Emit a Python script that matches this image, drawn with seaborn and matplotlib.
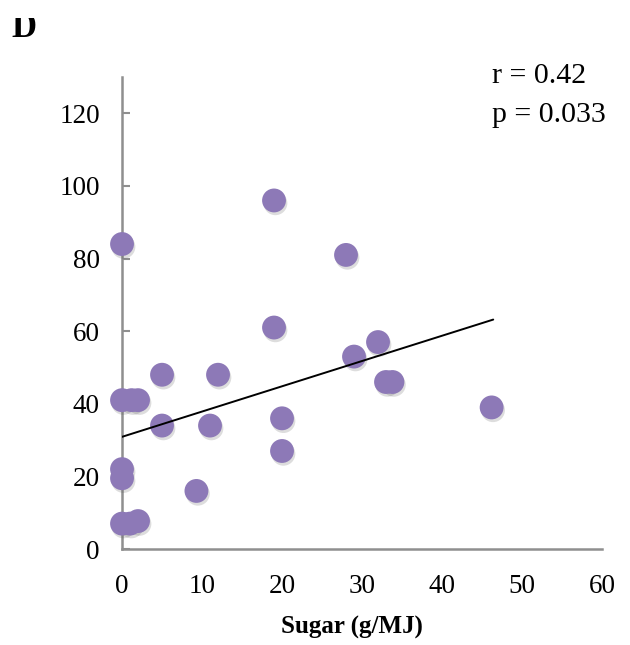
import matplotlib
matplotlib.use("Agg")
import matplotlib.pyplot as plt
import matplotlib.patheffects as pe
from matplotlib.patches import Rectangle
import numpy as np
import pandas as pd
import seaborn as sns

# ---- data ----
sugar = [0, 19, 28, 19, 32, 29, 5, 12, 33, 33.8, 46.2, 0, 1.2, 2, 5, 11,
         20, 20, 0, 0, 9.3, 0, 1, 2]
value = [84, 96, 81, 61, 57, 53, 48, 48, 46, 46, 39, 41, 41, 41, 34, 34,
         36, 27, 22, 19.5, 16, 7, 7, 7.7]
trend_intercept = 30.9
trend_slope = 0.696
trend_x = [0, 46.4]
x_ticks = [0, 10, 20, 30, 40, 50, 60]
y_ticks = [0, 20, 40, 60, 80, 100, 120]
stats_lines = ["r = 0.42", "p = 0.033"]
panel_label = "D"
x_label = "Sugar (g/MJ)"

df = pd.DataFrame({"sugar": sugar, "value": value})

sns.set_theme(style="white")
plt.rcParams["font.family"] = ["Liberation Serif", "DejaVu Serif"]
plt.rcParams["text.color"] = "black"

fig = plt.figure(figsize=(6.30, 6.45), dpi=100)
ax = fig.add_axes([0.1937, 0.1488, 0.7619, 0.7318])

dot_color = "#8D79B7"
sns.scatterplot(data=df, x="sugar", y="value", ax=ax, s=295, color=dot_color,
                edgecolor="none", linewidth=0, zorder=3, clip_on=False)
for coll in ax.collections:
    coll.set_clip_on(False)
    coll.set_path_effects([pe.SimplePatchShadow(offset=(1.0, -2.0), alpha=0.2,
                                                shadow_rgbFace="#555555"),
                           pe.Normal()])

tx = np.array(trend_x)
ax.plot(tx, trend_intercept + trend_slope * tx, color="black", lw=1.4, zorder=4)

ax.set_xlim(0, 60)
ax.set_ylim(0, 130)
ax.set_xticks(x_ticks)
ax.set_yticks(y_ticks)
ax.set_xticklabels([str(t) for t in x_ticks])
ax.set_yticklabels([str(t) for t in y_ticks])

for s in ["top", "right"]:
    ax.spines[s].set_visible(False)
for s in ["left", "bottom"]:
    ax.spines[s].set_color("#8f8f8f")
    ax.spines[s].set_linewidth(1.8)
ax.tick_params(axis="both", direction="in", length=6, width=1.5,
               color="#8f8f8f", labelsize=19.5, labelcolor="black")
ax.tick_params(axis="x", pad=18)
ax.tick_params(axis="y", pad=16, left=True)

ax.set_xlabel(x_label, fontsize=18, fontweight="bold", labelpad=12,
              color="black")
ax.xaxis.label.set_x(0.478)
ax.set_ylabel("")

fig.text(0.781, 0.882, stats_lines[0], fontsize=21.5, ha="left", va="center",
         color="black")
fig.text(0.781, 0.822, stats_lines[1], fontsize=21.5, ha="left", va="center",
         color="black")
fig.text(0.018, 0.9426, panel_label, fontsize=25, fontweight="bold",
         ha="left", va="baseline", color="black")
# the panel letter is clipped at its top in the reference
fig.add_artist(Rectangle((0, 1 - 18 / 645), 0.2, 18 / 645,
                         transform=fig.transFigure, facecolor="white",
                         edgecolor="none", zorder=10))

fig.savefig("out.png", dpi=100)
